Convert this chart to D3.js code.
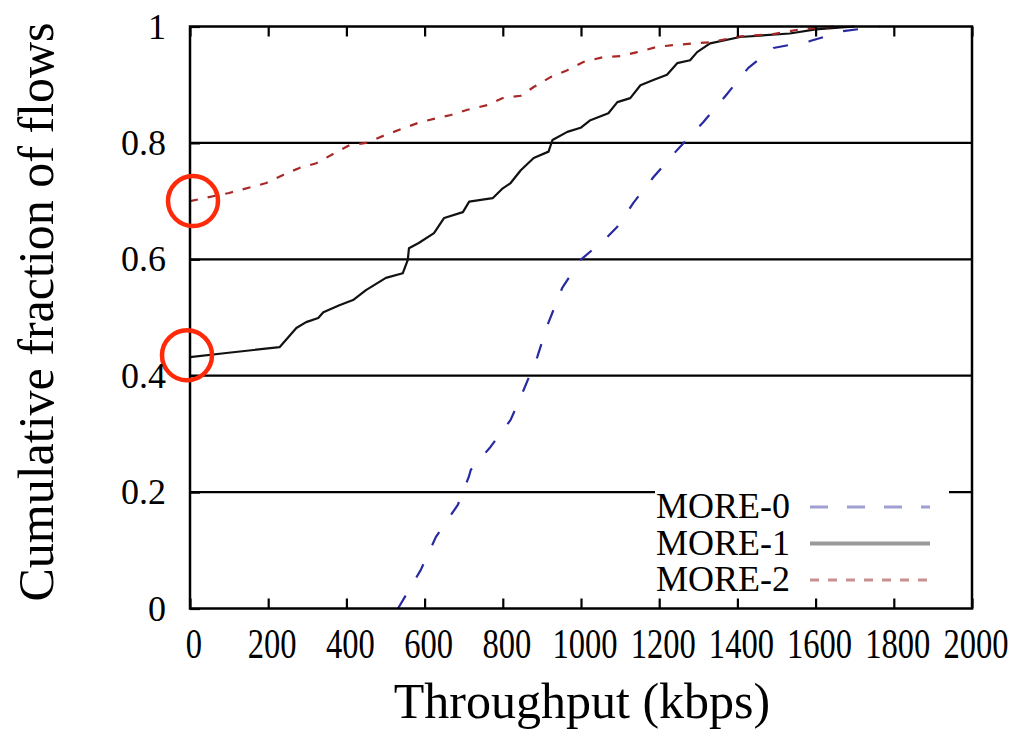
<!DOCTYPE html>
<html>
<head>
<meta charset="utf-8">
<script src="https://cdn.jsdelivr.net/npm/d3@7/dist/d3.min.js"></script>
<style>
html,body{margin:0;padding:0;background:#fff;}
svg{display:block;}
text{font-family:"Liberation Serif","DejaVu Serif",serif;fill:#000;}
</style>
</head>
<body>
<svg id="chart" width="1034" height="729"></svg>
<script>
// ---- data ----
const xTicks = [0,200,400,600,800,1000,1200,1400,1600,1800,2000];
const yTicks = [0,0.2,0.4,0.6,0.8,1];
const yTickLabels = ["0","0.2","0.4","0.6","0.8","1"];
const seriesNames = ["MORE-0","MORE-1","MORE-2"];

const more0X = [532,590,629,685,713,718,769,820,853,888,916,952,999,1067,1093,1134,1185,1246,1312,1371,1428,1492,1586,1670,1764];
const more0Y = [0,0.066,0.123,0.178,0.226,0.238,0.278,0.324,0.375,0.432,0.490,0.551,0.599,0.638,0.656,0.697,0.741,0.788,0.835,0.882,0.929,0.963,0.975,0.992,1.0];

const more1X = [0,93,229,272,297,328,341,382,417,450,501,544,557,560,585,624,650,698,714,774,800,820,846,879,917,927,965,999,1024,1070,1093,1126,1152,1185,1220,1246,1279,1297,1330,1407,1534,1600,1700];
const more1Y = [0.432,0.439,0.449,0.482,0.492,0.499,0.509,0.521,0.530,0.547,0.568,0.576,0.599,0.619,0.628,0.645,0.671,0.681,0.699,0.705,0.722,0.731,0.753,0.774,0.785,0.805,0.819,0.826,0.839,0.851,0.870,0.877,0.899,0.908,0.917,0.937,0.942,0.956,0.971,0.982,0.988,0.995,1.0];

const more2X = [0,100,195,238,280,323,366,408,450,501,590,667,710,761,800,846,879,922,965,1006,1055,1101,1144,1195,1236,1287,1330,1407,1492,1560,1650];
const more2Y = [0.700,0.714,0.731,0.745,0.757,0.765,0.781,0.796,0.800,0.814,0.836,0.848,0.857,0.865,0.877,0.881,0.896,0.913,0.925,0.939,0.947,0.949,0.956,0.965,0.968,0.971,0.973,0.983,0.987,0.995,1.0];

// highlighted start points (red circle annotations)
const markX = [0,0];
const markY = [0.70,0.435];

// ---- layout ----
const L = 190, R = 972, T = 26.5, B = 608.5;
const svg = d3.select("#chart");
const x = d3.scaleLinear().domain([0,2000]).range([L,R]);
const y = d3.scaleLinear().domain([0,1]).range([B,T]);

// gridlines
svg.append("g").selectAll("line").data(yTicks.slice(1,-1)).join("line")
  .attr("x1",L).attr("x2",R).attr("y1",d=>y(d)).attr("y2",d=>y(d))
  .attr("stroke","#000").attr("stroke-width",2.2);

// series
const styles = [
  {color:"#2828a0", dash:"15,21", w:2.2},
  {color:"#111", dash:null, w:2.2},
  {color:"#a82828", dash:"8,10", w:2.2}
];
const data = [
  more0X.map((v,i)=>[v,more0Y[i]]),
  more1X.map((v,i)=>[v,more1Y[i]]),
  more2X.map((v,i)=>[v,more2Y[i]])
];
const line = d3.line().x(d=>x(d[0])).y(d=>y(d[1]));
data.forEach((d,i)=>{
  svg.append("path").datum(d).attr("d",line)
    .attr("fill","none").attr("stroke",styles[i].color)
    .attr("stroke-width",styles[i].w)
    .attr("stroke-dasharray",styles[i].dash)
    .attr("stroke-linejoin","round");
});

// legend box (opaque)
svg.append("rect").attr("x",655).attr("y",486).attr("width",294).attr("height",111).attr("fill","#fff");
const legColors = ["#a0a0d0","#9a9a9a","#c89090"];
const legDash = ["18,19",null,"9,9"];
seriesNames.forEach((n,i)=>{
  const cy = 507 + i*36.5;
  svg.append("text").attr("x",790).attr("y",cy+11).attr("text-anchor","end")
    .style("font-size","36px").text(n);
  svg.append("line").attr("x1",810).attr("x2",930).attr("y1",cy).attr("y2",cy)
    .attr("stroke",legColors[i]).attr("stroke-width",i===1?4:3)
    .attr("stroke-dasharray",legDash[i]);
});

// axes ticks
const gx = svg.append("g").attr("transform",`translate(0,${B})`)
  .call(d3.axisBottom(x).tickValues(xTicks).tickSize(-10).tickFormat(""));
const gxt = svg.append("g").attr("transform",`translate(0,${T})`)
  .call(d3.axisTop(x).tickValues(xTicks).tickSize(-10).tickFormat(""));
const gy = svg.append("g").attr("transform",`translate(${L},0)`)
  .call(d3.axisLeft(y).tickValues(yTicks).tickSize(-10).tickFormat(""));
[gx,gxt,gy].forEach(g=>{
  g.select(".domain").remove();
  g.selectAll("line").attr("stroke","#000").attr("stroke-width",2.2);
});

// frame
svg.append("rect").attr("x",L).attr("y",T).attr("width",R-L).attr("height",B-T)
  .attr("fill","none").attr("stroke","#000").attr("stroke-width",2.5);

// red circle annotations
svg.append("g").selectAll("circle").data(markX).join("circle")
  .attr("cx",(d,i)=>x(d)+(i===0?3:-3)).attr("cy",(d,i)=>y(markY[i]))
  .attr("r",25).attr("fill","none").attr("stroke","#ff2a0a").attr("stroke-width",4.5);

// tick labels
svg.append("g").selectAll("text").data(xTicks).join("text")
  .attr("transform",d=>`translate(${x(d)+4},658) scale(0.88,1.12)`)
  .attr("text-anchor","middle").style("font-size","37px").text(d=>d);
svg.append("g").selectAll("text").data(yTicks).join("text")
  .attr("transform",d=>`translate(166,${y(d)+12})`)
  .attr("text-anchor","end").style("font-size","36px").text((d,i)=>yTickLabels[i]);

// axis titles
svg.append("text").attr("x",582).attr("y",718).attr("text-anchor","middle")
  .style("font-size","50px").text("Throughput (kbps)");
svg.append("text").attr("transform","translate(53,312) rotate(-90)")
  .attr("text-anchor","middle").style("font-size","50px").text("Cumulative fraction of flows");
</script>
</body>
</html>
